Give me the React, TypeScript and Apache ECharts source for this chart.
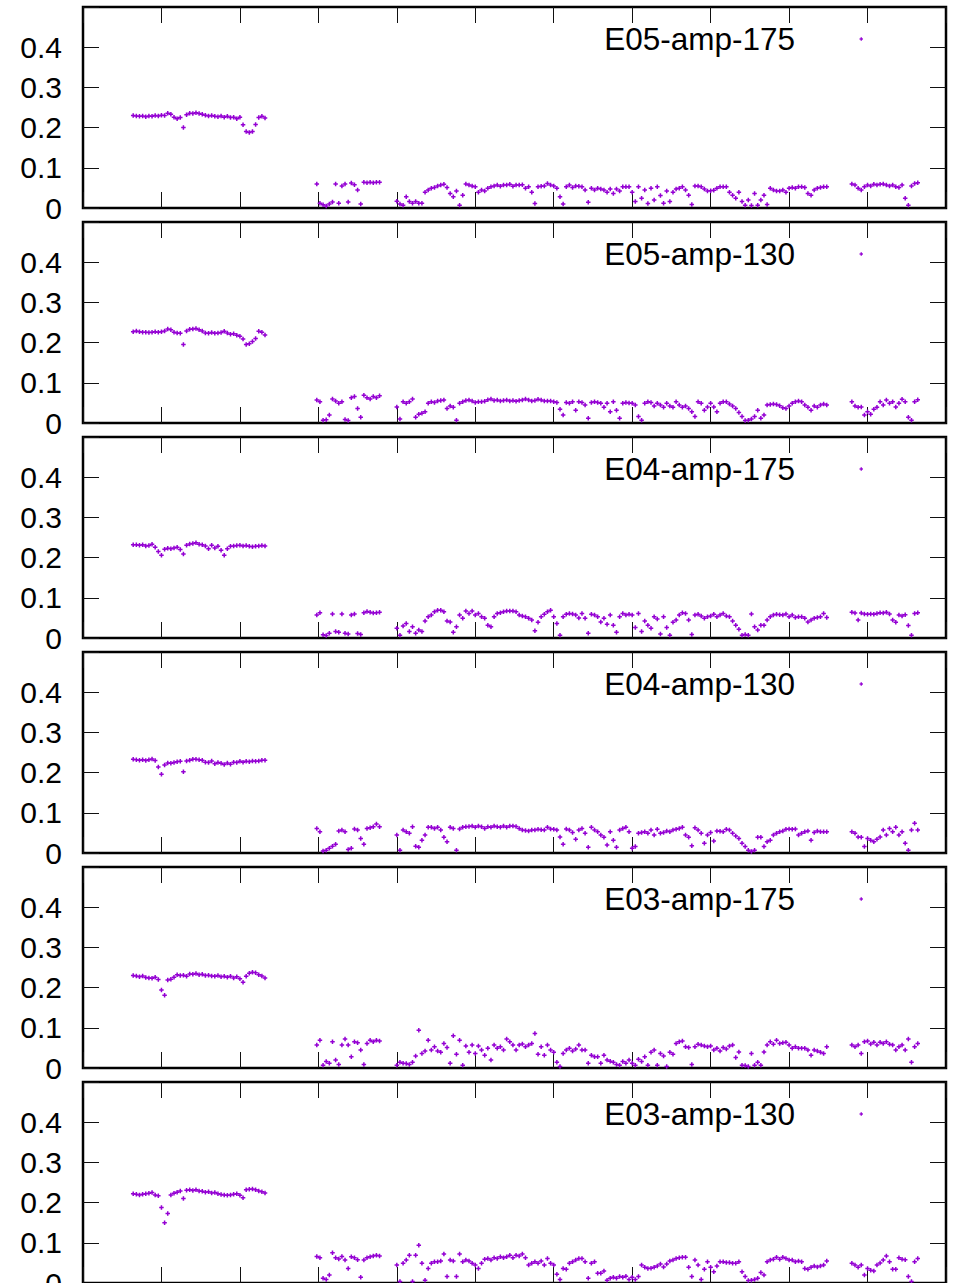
import { useEffect, useRef } from "react";
import * as echarts from "echarts";

// sample positions (x) of the four measurement blocks
const xBlock1 = [64, 68, 72, 76, 80, 84, 88, 92, 96, 100, 104, 108, 112, 116, 120, 124, 128, 132, 136, 140, 144, 148, 152, 156, 160, 164, 168, 172, 176, 180, 184, 188, 192, 196, 200, 204, 208, 212, 216, 220, 224, 228, 232];
const xBlock2 = [298, 302, 306, 310, 314, 318, 322, 326, 330, 334, 338, 342, 346, 350, 354, 358, 362, 366, 370, 374, 378];
const xBlock3 = [
  400, 404, 408, 412, 416, 420, 424, 428, 432, 436,
  440, 444, 448, 452, 456, 460, 464, 468, 472, 476,
  480, 484, 488, 492, 496, 500, 504, 508, 512, 516,
  520, 524, 528, 532, 536, 540, 544, 548, 552, 556,
  560, 564, 568, 572, 576, 580, 584, 588, 592, 596,
  600, 604, 608, 612, 616, 620, 624, 628, 632, 636,
  640, 644, 648, 652, 656, 660, 664, 668, 672, 676,
  680, 684, 688, 692, 696, 700, 704, 708, 712, 716,
  720, 724, 728, 732, 736, 740, 744, 748, 752, 756,
  760, 764, 768, 772, 776, 780, 784, 788, 792, 796,
  800, 804, 808, 812, 816, 820, 824, 828, 832, 836,
  840, 844, 848, 852, 856, 860, 864, 868, 872, 876,
  880, 884, 888, 892, 896, 900, 904, 908, 912, 916,
  920, 924, 928, 932, 936, 940, 944, 948,
];
const xBlock4 = [980, 984, 988, 992, 996, 1000, 1004, 1008, 1012, 1016, 1020, 1024, 1028, 1032, 1036, 1040, 1044, 1048, 1052, 1056, 1060, 1064];
const sampleX = [...xBlock1, ...xBlock2, ...xBlock3, ...xBlock4];

const panelNames = ["E05-amp-175", "E05-amp-130", "E04-amp-175", "E04-amp-130", "E03-amp-175", "E03-amp-130"];
const yTickLabels = ["0", "0.1", "0.2", "0.3", "0.4"];
const xTickValues = [0, 100, 200, 300, 400, 500, 600, 700, 800, 900, 1000, 1100];

const e05amp175 = [
  .230, .229, .228, .229, .227, .229, .228, .230, .229, .231, .230, .236, .233, .226, .222, .225, .200, .232, .236, .235,
  .237, .235, .233, .231, .229, .230, .228, .227, .229, .226, .228, .225, .226, .222, .226, .207, .190, .188, .190, .208,
  .225, .228, .224,
  .060, .012, .008, .005, .010, .015, .060, .012, .055, .060, .015, .062, .058, .045, .010, .064, .063, .064, .063, .064, .064,
  .017, .010, .007, .028, .016, .012, .016, .012, .012, .039,
  .045, .049, .051, .055, .057, .059, .051, .036, .028, .042,
  .007, .032, .060, .057, .055, .053, .039, .045, .042, .049,
  .053, .055, .057, .054, .057, .057, .059, .054, .057, .057,
  .058, .049, .053, .039, .011, .053, .054, .055, .061, .057,
  .055, .049, .028, .010, .053, .057, .051, .055, .054, .053,
  .045, .014, .049, .045, .049, .047, .045, .039, .047, .036,
  .047, .042, .053, .053, .053, .039, .016, .053, .024, .045,
  .011, .049, .020, .053, .031, .012, .042, .016, .039, .047,
  .049, .053, .045, .032, .009, .055, .055, .053, .047, .042,
  .043, .044, .049, .053, .053, .053, .039, .032, .024, .039,
  .016, .007, .020, .006, .036, .007, .020, .032, .009, .049,
  .045, .042, .042, .045, .039, .049, .051, .049, .053, .053,
  .051, .036, .032, .045, .049, .051, .053, .053,
  .060, .057, .049, .045, .053, .057, .055, .059, .057, .059, .060, .057, .055, .057, .053, .051, .057, .024, .007, .055, .061, .063,
];

const e05amp130 = [
  .227, .229, .227, .226, .226, .225, .226, .227, .226, .227, .229, .234, .232, .226, .224, .223, .195, .229, .233, .234,
  .235, .232, .229, .224, .223, .225, .223, .224, .225, .228, .224, .221, .222, .218, .216, .209, .195, .197, .203, .210,
  .228, .226, .219,
  .057, .053, .007, .008, .020, .060, .055, .049, .053, .009, .006, .063, .066, .036, .014, .069, .063, .060, .066, .063, .068,
  .040, .010, .053, .049, .053, .060, .014, .022, .024, .028,
  .049, .053, .051, .055, .056, .057, .036, .042, .039, .007,
  .049, .053, .056, .057, .055, .051, .053, .053, .054, .058,
  .060, .056, .057, .055, .056, .057, .055, .056, .054, .056,
  .057, .060, .057, .055, .056, .059, .057, .055, .055, .055,
  .053, .051, .034, .020, .051, .049, .053, .032, .053, .051,
  .045, .012, .051, .053, .051, .049, .039, .049, .028, .053,
  .032, .012, .049, .051, .050, .049, .045, .016, .007, .049,
  .053, .051, .042, .049, .045, .039, .049, .042, .039, .053,
  .045, .039, .042, .036, .028, .016, .053, .049, .032, .040,
  .049, .040, .028, .049, .053, .053, .047, .042, .036, .026,
  .016, .006, .007, .010, .016, .032, .012, .020, .045, .046,
  .047, .046, .043, .038, .036, .042, .049, .053, .055, .053,
  .045, .039, .032, .042, .039, .045, .047, .045,
  .053, .042, .039, .040, .020, .028, .022, .034, .039, .053, .045, .057, .049, .053, .040, .049, .059, .053, .014, .007, .053, .058,
];

const e04amp175 = [
  .232, .232, .231, .232, .229, .230, .233, .226, .215, .206, .221, .223, .222, .224, .226, .220, .209, .231, .234, .235,
  .237, .233, .232, .229, .222, .231, .224, .228, .218, .206, .222, .228, .229, .230, .231, .229, .230, .228, .227, .228,
  .229, .230, .229,
  .057, .063, .008, .006, .012, .060, .016, .014, .060, .012, .010, .057, .060, .011, .009, .063, .066, .064, .062, .063, .064,
  .024, .007, .030, .036, .016, .028, .012, .020, .016, .042,
  .053, .057, .065, .069, .069, .065, .042, .040, .014, .028,
  .057, .049, .067, .061, .067, .057, .061, .053, .049, .032,
  .028, .053, .061, .063, .065, .067, .067, .067, .065, .057,
  .055, .053, .049, .045, .018, .039, .053, .059, .065, .069,
  .053, .036, .007, .053, .059, .061, .060, .057, .050, .061,
  .049, .012, .059, .057, .053, .040, .049, .034, .057, .032,
  .014, .053, .061, .057, .059, .057, .026, .061, .016, .042,
  .032, .024, .053, .047, .010, .053, .026, .007, .039, .045,
  .057, .063, .061, .045, .009, .057, .059, .055, .049, .053,
  .055, .059, .053, .057, .061, .055, .053, .042, .032, .022,
  .007, .009, .007, .060, .028, .020, .032, .032, .045, .053,
  .057, .059, .058, .057, .060, .053, .057, .051, .053, .053,
  .049, .040, .045, .049, .051, .053, .061, .051,
  .064, .062, .045, .062, .060, .059, .060, .059, .061, .063, .062, .064, .060, .045, .039, .057, .055, .058, .031, .007, .061, .063,
];

const e04amp130 = [
  .233, .232, .231, .232, .230, .232, .234, .230, .214, .196, .219, .224, .223, .225, .227, .228, .202, .229, .231, .233,
  .233, .232, .231, .226, .225, .229, .222, .225, .223, .220, .224, .221, .226, .225, .228, .226, .228, .227, .229, .228,
  .229, .231, .231,
  .061, .053, .005, .007, .012, .017, .022, .055, .057, .053, .009, .012, .060, .057, .036, .022, .061, .063, .065, .072, .065,
  .045, .007, .057, .053, .049, .065, .017, .014, .032, .045,
  .064, .064, .061, .064, .057, .039, .028, .064, .061, .007,
  .060, .064, .065, .066, .067, .064, .067, .065, .061, .065,
  .064, .067, .065, .064, .067, .064, .067, .067, .066, .061,
  .057, .056, .055, .057, .057, .059, .058, .057, .064, .060,
  .059, .057, .040, .022, .060, .057, .051, .034, .057, .061,
  .049, .014, .064, .057, .053, .045, .039, .020, .053, .032,
  .014, .057, .061, .064, .053, .012, .016, .049, .051, .053,
  .049, .057, .045, .059, .049, .051, .055, .053, .057, .059,
  .061, .064, .045, .039, .018, .063, .057, .049, .024, .045,
  .051, .030, .055, .054, .053, .059, .057, .049, .042, .036,
  .024, .016, .007, .004, .007, .039, .039, .016, .028, .032,
  .045, .049, .053, .055, .059, .060, .059, .060, .045, .049,
  .053, .055, .032, .051, .055, .053, .053, .053,
  .053, .049, .040, .039, .016, .036, .032, .028, .034, .040, .057, .045, .061, .053, .064, .045, .053, .024, .007, .057, .074, .057,
];

const e03amp175 = [
  .230, .229, .227, .229, .225, .224, .223, .226, .220, .194, .181, .219, .221, .226, .232, .230, .231, .228, .234, .233,
  .235, .232, .233, .230, .231, .229, .228, .230, .227, .228, .226, .228, .224, .227, .222, .213, .228, .236, .238, .237,
  .232, .229, .224,
  .057, .069, .007, .016, .012, .065, .020, .009, .057, .072, .057, .028, .065, .063, .045, .009, .061, .069, .065, .069, .067,
  .007, .014, .012, .011, .009, .014, .030, .094, .036, .042,
  .069, .045, .053, .042, .039, .061, .051, .012, .080, .034,
  .069, .007, .055, .039, .057, .036, .055, .045, .032, .049,
  .020, .057, .049, .053, .045, .072, .065, .057, .045, .057,
  .060, .053, .057, .061, .086, .034, .053, .032, .057, .045,
  .039, .014, .004, .036, .045, .049, .042, .047, .057, .045,
  .045, .012, .032, .028, .028, .012, .032, .020, .017, .014,
  .009, .007, .016, .012, .020, .012, .007, .022, .016, .028,
  .007, .039, .045, .007, .036, .030, .004, .039, .034, .061,
  .065, .067, .053, .051, .009, .053, .059, .057, .055, .053,
  .055, .045, .049, .042, .051, .047, .055, .057, .026, .040,
  .007, .006, .004, .036, .007, .014, .007, .040, .057, .065,
  .059, .069, .061, .063, .064, .057, .049, .053, .049, .049,
  .049, .045, .032, .045, .042, .039, .036, .053,
  .057, .053, .057, .036, .065, .067, .060, .064, .057, .064, .061, .065, .059, .057, .045, .053, .057, .045, .072, .014, .053, .061,
];

const e03amp130 = [
  .222, .221, .219, .221, .222, .223, .225, .219, .217, .188, .150, .173, .219, .223, .226, .229, .210, .231, .232, .230,
  .232, .229, .228, .226, .227, .224, .225, .222, .220, .219, .218, .219, .221, .222, .218, .212, .232, .233, .234, .232,
  .229, .227, .224,
  .066, .063, .012, .009, .020, .075, .063, .060, .066, .057, .036, .065, .063, .058, .014, .057, .063, .065, .067, .069, .067,
  .045, .004, .049, .057, .069, .004, .069, .094, .049, .007,
  .036, .049, .053, .053, .055, .072, .016, .057, .055, .016,
  .072, .053, .057, .055, .049, .045, .036, .049, .059, .061,
  .057, .063, .061, .065, .063, .065, .069, .063, .069, .067,
  .072, .063, .045, .049, .053, .049, .055, .045, .061, .049,
  .045, .022, .009, .036, .034, .049, .053, .057, .061, .061,
  .053, .012, .049, .053, .024, .024, .030, .007, .012, .014,
  .012, .016, .014, .017, .009, .014, .009, .016, .045, .039,
  .036, .037, .039, .042, .047, .040, .047, .055, .057, .061,
  .063, .064, .064, .039, .016, .057, .045, .009, .034, .053,
  .039, .028, .042, .053, .053, .051, .051, .049, .049, .053,
  .028, .016, .006, .007, .009, .012, .026, .020, .053, .057,
  .059, .064, .059, .064, .061, .057, .057, .053, .055, .053,
  .036, .034, .039, .042, .040, .042, .045, .055,
  .049, .045, .039, .045, .020, .036, .032, .030, .045, .050, .057, .067, .053, .034, .034, .063, .059, .058, .016, .004, .053, .061,
];

const panelValues = [e05amp175, e05amp130, e04amp175, e04amp130, e03amp175, e03amp130];

const PURPLE = "#9400d3";
const FONT = '"Liberation Sans", Arial, Helvetica, sans-serif';
const PLOT_LEFT = 83;
const PLOT_RIGHT = 946;
const FIRST_TOP = 7;
const PANEL_STEP = 215;
const PANEL_H = 201;

export default function App() {
  const ref = useRef<HTMLDivElement>(null);

  useEffect(() => {
    if (!ref.current) return;
    const chart = echarts.init(ref.current, null, { renderer: "svg" });

    const grid: any[] = [];
    const xAxis: any[] = [];
    const yAxis: any[] = [];
    const series: any[] = [];
    const graphic: any[] = [];
    const tick = { show: true, inside: true, length: 16, lineStyle: { color: "#111", width: 1 } };

    panelNames.forEach((name, i) => {
      const top = FIRST_TOP + PANEL_STEP * i;
      grid.push({
        left: PLOT_LEFT,
        top,
        width: PLOT_RIGHT - PLOT_LEFT,
        height: PANEL_H,
        show: true,
        borderColor: "#000",
        borderWidth: 2.5,
        backgroundColor: "transparent",
        containLabel: false,
        outerBoundsMode: "none",
      });
      ["bottom", "top"].forEach((pos) =>
        xAxis.push({
          type: "value",
          gridIndex: i,
          position: pos,
          min: xTickValues[0],
          max: xTickValues[xTickValues.length - 1],
          interval: xTickValues[1] - xTickValues[0],
          axisLine: { show: false, onZero: false },
          axisTick: tick,
          axisLabel: { show: false },
          splitLine: { show: false },
        })
      );
      ["left", "right"].forEach((pos, j) =>
        yAxis.push({
          type: "value",
          gridIndex: i,
          position: pos,
          min: 0,
          max: 0.5,
          interval: 0.1,
          axisLine: { show: false, onZero: false },
          axisTick: tick,
          axisLabel:
            j === 0
              ? {
                  show: true,
                  margin: 21,
                  fontSize: 30,
                  fontFamily: FONT,
                  color: "#000",
                  showMinLabel: true,
                  showMaxLabel: true,
                  formatter: (v: number) => {
                    const k = Math.round(v * 10);
                    return k < yTickLabels.length ? yTickLabels[k] : "";
                  },
                }
              : { show: false },
          splitLine: { show: false },
        })
      );
      const values = panelValues[i];
      series.push({
        type: "scatter",
        name,
        xAxisIndex: 2 * i,
        yAxisIndex: 2 * i,
        data: sampleX.map((x, k) => [x, values[k]]),
        symbol: "path://M0,-1L0,1M-1,0L1,0",
        symbolSize: 4.5,
        itemStyle: { color: PURPLE, borderColor: PURPLE, borderWidth: 1.5, opacity: 1 },
        silent: true,
      });
      const ky = top + 32;
      graphic.push({
        type: "text",
        x: 795,
        y: ky,
        style: {
          text: name,
          fill: "#000",
          fontSize: 31.5,
          fontFamily: FONT,
          align: "right",
          verticalAlign: "middle",
        },
      });
      graphic.push({
        type: "line",
        shape: { x1: 859.5, y1: ky, x2: 863, y2: ky },
        style: { stroke: PURPLE, lineWidth: 1.3 },
      });
      graphic.push({
        type: "line",
        shape: { x1: 861.25, y1: ky - 1.75, x2: 861.25, y2: ky + 1.75 },
        style: { stroke: PURPLE, lineWidth: 1.3 },
      });
    });

    chart.setOption({
      animation: false,
      backgroundColor: "#fff",
      grid,
      xAxis,
      yAxis,
      series,
      graphic,
    });

    return () => chart.dispose();
  }, []);

  return (
    <div
      ref={ref}
      style={{ position: "absolute", left: 0, top: 0, width: 962, height: 1283 }}
    />
  );
}
